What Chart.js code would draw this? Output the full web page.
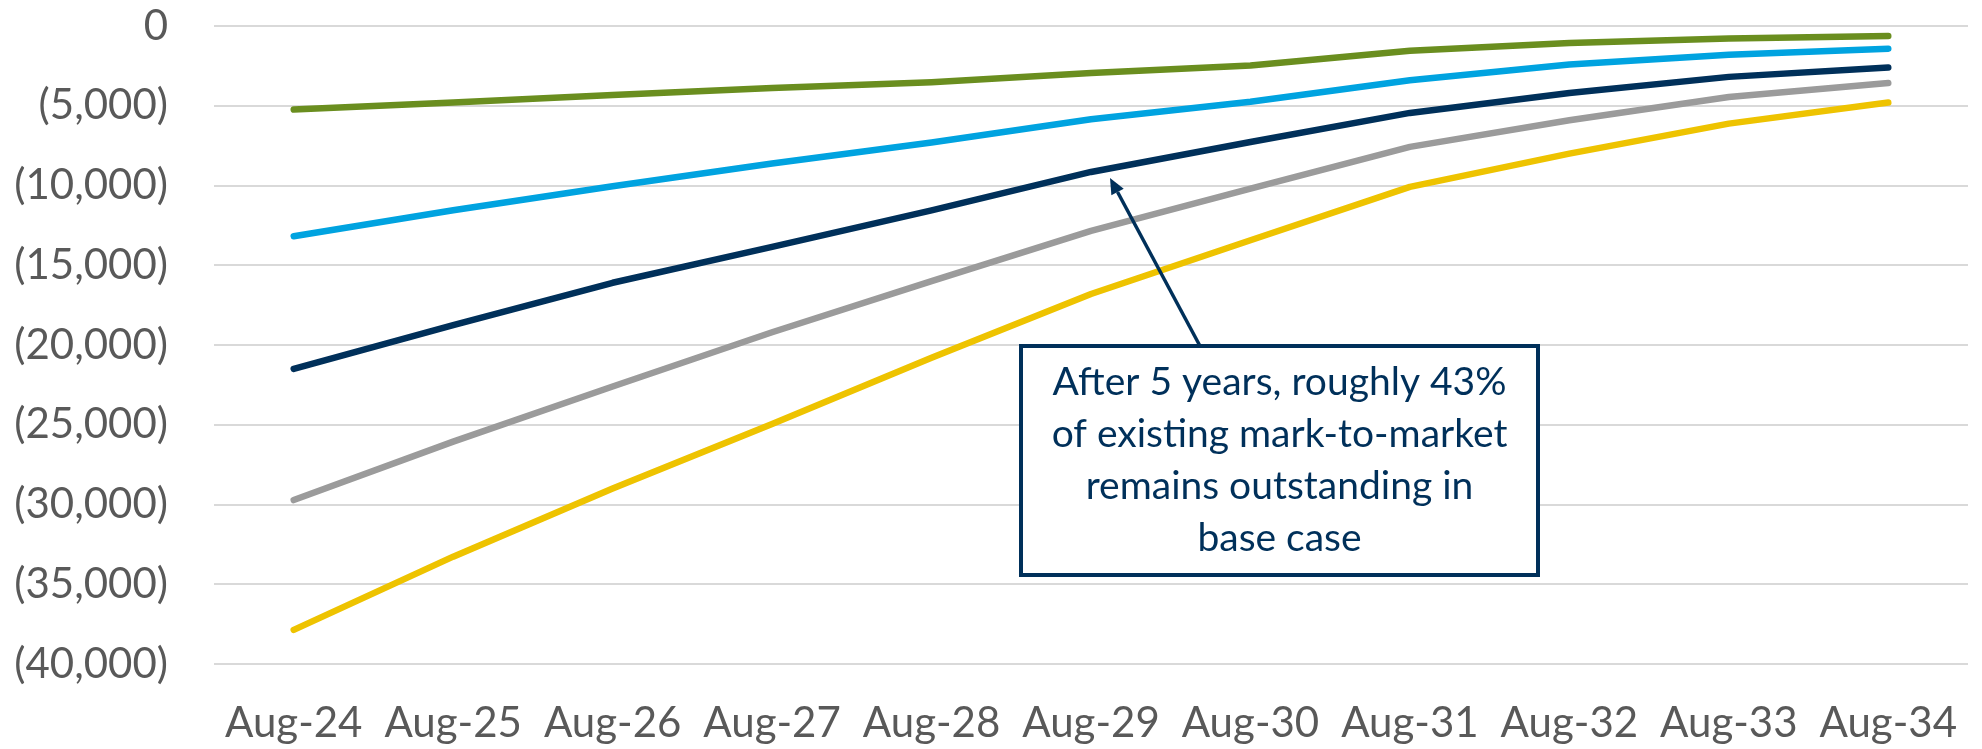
<!DOCTYPE html>
<html>
<head>
<meta charset="utf-8">
<script src="https://cdn.jsdelivr.net/npm/chart.js@4.4.1/dist/chart.umd.min.js"></script>
<style>
  html, body { margin: 0; padding: 0; background: #fff; }
  #wrap { width: 1982px; height: 749px; position: relative; }
</style>
</head>
<body>
<div id="wrap"><canvas id="mtmChart"></canvas></div>
<script>
// Chart data
const labels = ['Aug-24', 'Aug-25', 'Aug-26', 'Aug-27', 'Aug-28', 'Aug-29', 'Aug-30', 'Aug-31', 'Aug-32', 'Aug-33', 'Aug-34'];
const greenSeries = [-5240, -4800, -4320, -3880, -3520, -2950, -2480, -1550, -1070, -790, -630];
const blueSeries = [-13180, -11550, -10050, -8620, -7300, -5850, -4750, -3400, -2420, -1800, -1420];
const navySeries = [-21500, -18750, -16100, -13850, -11560, -9150, -7270, -5450, -4200, -3190, -2600];
const greySeries = [-29720, -26060, -22600, -19200, -16000, -12850, -10190, -7580, -5910, -4450, -3570];
const yellowSeries = [-37860, -33270, -28990, -24950, -20800, -16800, -13430, -10090, -8000, -6120, -4800];
const annotationLines = ['After 5 years, roughly 43%', 'of existing mark-to-market', 'remains outstanding in', 'base case'];

const FONT = 'Lato, "Open Sans", sans-serif';
const NAVY = '#00305A';

function fmt(v) {
  if (v === 0) return '0';
  const s = Math.abs(v).toLocaleString('en-US');
  return v < 0 ? '(' + s + ')' : s;
}

function line(data, color) {
  return {
    data: data,
    borderColor: color,
    backgroundColor: color,
    borderWidth: 6.5,
    borderCapStyle: 'round',
    borderJoinStyle: 'round',
    pointRadius: 0,
    tension: 0
  };
}

// callout box + arrow pointing at the navy line around Aug-29
const calloutPlugin = {
  id: 'callout',
  afterDraw(chart) {
    const { ctx, scales } = chart;
    const tipX = scales.x.getPixelForValue(5) + 19;
    const tipY = scales.y.getPixelForValue(navySeries[5]) + 6;
    const box = { left: 1021, top: 346, right: 1538, bottom: 575 };
    const baseX = 1200, baseY = box.top;

    ctx.save();
    // arrow shaft
    const ang = Math.atan2(tipY - baseY, tipX - baseX);
    const headLen = 16, headW = 7;
    const hx = tipX - Math.cos(ang) * headLen;
    const hy = tipY - Math.sin(ang) * headLen;
    ctx.strokeStyle = NAVY;
    ctx.lineWidth = 3.5;
    ctx.beginPath();
    ctx.moveTo(baseX, baseY);
    ctx.lineTo(hx, hy);
    ctx.stroke();
    // arrow head
    ctx.fillStyle = NAVY;
    ctx.beginPath();
    ctx.moveTo(tipX, tipY);
    ctx.lineTo(hx + Math.sin(ang) * headW, hy - Math.cos(ang) * headW);
    ctx.lineTo(hx - Math.sin(ang) * headW, hy + Math.cos(ang) * headW);
    ctx.closePath();
    ctx.fill();

    // box
    ctx.fillStyle = '#ffffff';
    ctx.fillRect(box.left, box.top, box.right - box.left, box.bottom - box.top);
    ctx.lineWidth = 4;
    ctx.strokeRect(box.left, box.top, box.right - box.left, box.bottom - box.top);

    // text
    ctx.fillStyle = NAVY;
    ctx.font = '39px ' + FONT;
    ctx.textAlign = 'center';
    ctx.textBaseline = 'middle';
    const cx = (box.left + box.right) / 2;
    const cy = (box.top + box.bottom) / 2;
    const lh = 52;
    annotationLines.forEach((t, i) => {
      ctx.fillText(t, cx, cy + (i - (annotationLines.length - 1) / 2) * lh);
    });
    ctx.restore();
  }
};

new Chart(document.getElementById('mtmChart'), {
  type: 'line',
  data: {
    labels: labels,
    datasets: [
      line(greenSeries, '#6A8E1F'),
      line(blueSeries, '#00A3E0'),
      line(navySeries, NAVY),
      line(greySeries, '#9B9B9B'),
      line(yellowSeries, '#EEC300')
    ]
  },
  options: {
    responsive: true,
    maintainAspectRatio: false,
    animation: false,
    layout: { padding: { top: 26, right: 14, bottom: 0, left: 0 } },
    plugins: {
      legend: { display: false },
      tooltip: { enabled: false }
    },
    scales: {
      x: {
        offset: true,
        grid: { display: false, drawTicks: false },
        border: { display: false },
        ticks: {
          color: '#595959',
          font: { family: FONT, size: 42 },
          padding: 34,
          maxRotation: 0,
          autoSkip: false
        },
        afterFit(scale) {
          scale.height = 85;
          scale.paddingLeft = 0;
          scale.paddingRight = 0;
        }
      },
      y: {
        min: -40000,
        max: 0,
        grid: {
          drawTicks: false,
          lineWidth: 2,
          color: ctx => (ctx.tick && ctx.tick.value % 5000 === 0) ? '#D9D9D9' : '#F2F2F2'
        },
        border: { display: false },
        ticks: {
          stepSize: 2500,
          color: '#595959',
          font: { family: FONT, size: 42 },
          padding: 46,
          callback: v => (v % 5000 === 0) ? fmt(v) : ''
        },
        afterFit(scale) {
          scale.width = 214;
          scale.paddingTop = 0;
          scale.paddingBottom = 0;
        }
      }
    }
  },
  plugins: [calloutPlugin]
});
</script>
</body>
</html>
